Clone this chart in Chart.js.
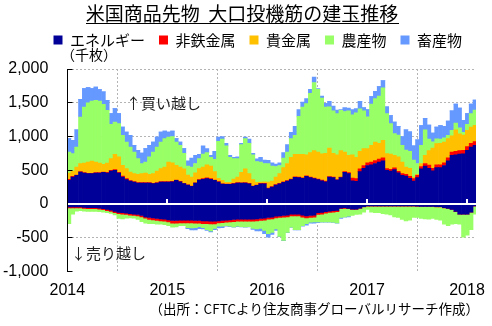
<!DOCTYPE html>
<html><head><meta charset="utf-8">
<script src="https://cdn.jsdelivr.net/npm/chart.js@4.4.1/dist/chart.umd.min.js"></script>
<style>html,body{margin:0;padding:0;background:#fff;}#wrap{width:492px;height:326px;}</style>
</head><body><div id="wrap"><canvas id="c" width="492" height="326"></canvas></div>
<script>
// ---- data (thousand contracts, bi-weekly from 2014-01-07) ----
const startDate = '2014-01-07';
const stepDays = 14;
const categories = ['エネルギー', '非鉄金属', '貴金属', '農産物', '畜産物'];
const yearTicks = [2014, 2015, 2016, 2017, 2018];
const yTickValues = [-1000, -500, 0, 500, 1000, 1500, 2000];

const energyLong = [351,400,425,474,459,450,450,459,459,469,459,489,499,459,400,360,341,326,311,311,311,311,301,311,326,326,
  326,330,351,330,301,280,260,310,355,365,375,365,350,326,295,291,291,300,311,310,311,300,262,277,300,300,
  227,250,280,300,320,340,360,395,390,380,410,390,375,360,345,330,400,390,355,390,470,450,345,335,480,530,
  570,580,600,622,640,500,489,510,460,425,415,380,341,390,520,560,530,490,540,540,570,640,720,730,740,745,795,845,870];
const metalsLong = [15,10,5,5,5,5,5,5,5,5,10,10,10,10,15,15,5,5,5,5,5,5,5,5,5,5,
  5,5,5,5,5,5,5,5,5,12,12,12,5,5,5,5,5,5,5,5,5,5,5,5,5,5,
  8,8,8,8,8,8,8,8,8,8,8,8,8,8,8,8,8,8,8,10,10,15,40,40,40,40,
  40,40,45,45,45,25,25,25,25,25,25,30,35,35,35,40,45,40,40,40,40,45,50,50,50,50,55,55,55];
const preciousLong = [93,79,118,119,144,167,182,158,144,114,139,173,227,228,158,149,128,119,124,134,143,124,144,173,193,217,
  291,275,217,213,214,145,135,145,164,171,193,183,125,49,51,24,24,65,84,155,204,145,93,38,20,25,
  91,82,112,142,212,252,322,333,338,348,312,362,407,402,392,412,422,352,367,390,290,255,345,315,260,250,
  210,250,274,233,258,221,226,186,212,172,108,120,24,15,45,120,215,300,314,320,309,283,240,320,250,225,242,241,241];
const agriLong = [311,257,297,691,829,875,889,914,918,889,780,509,479,493,445,395,371,320,232,148,163,257,320,356,395,420,
  371,390,346,322,230,130,148,140,148,192,180,130,180,550,609,540,370,302,272,410,448,450,370,310,297,270,
  272,220,155,120,140,170,278,282,564,701,757,880,1010,930,825,687,610,630,610,598,600,660,590,660,630,560,
  470,610,641,700,777,594,450,321,323,248,252,250,250,160,270,380,170,90,70,60,60,50,80,100,90,40,88,199,224];
const livestockLong = [198,197,255,261,272,227,183,198,168,183,148,158,198,149,123,148,173,99,123,158,198,172,149,148,148,114,
  74,80,49,49,70,80,132,120,64,120,60,30,120,60,40,40,30,18,28,20,22,60,20,40,68,50,
  49,50,35,40,80,110,92,132,100,73,73,60,80,10,30,53,80,70,50,12,60,40,75,60,110,50,
  110,110,110,140,110,100,120,173,130,130,300,290,210,350,290,170,210,130,176,200,171,212,290,280,290,180,160,140,150];

const energyShort = [-43,-43,-43,-43,-50,-53,-53,-53,-60,-70,-80,-90,-110,-125,-130,-135,-145,-150,-155,-170,-190,-200,-205,-215,-220,-225,
  -235,-245,-245,-240,-240,-240,-240,-245,-245,-250,-250,-255,-255,-250,-245,-240,-235,-230,-225,-225,-225,-225,-225,-220,-215,-210,
  -200,-195,-180,-175,-170,-165,-150,-150,-150,-165,-175,-170,-165,-130,-125,-115,-105,-100,-95,-60,-55,-65,-75,-75,-60,-40,
  -30,-30,-30,-30,-30,-30,-30,-30,-30,-30,-30,-30,-30,-32,-35,-35,-35,-35,-40,-40,-55,-65,-80,-110,-150,-150,-150,-120,-30];
const metalsShort = [-15,-15,-15,-15,-15,-15,-15,-15,-15,-15,-20,-20,-20,-20,-20,-20,-20,-20,-20,-20,-20,-30,-30,-30,-30,-30,
  -30,-40,-40,-40,-40,-40,-40,-40,-40,-40,-40,-40,-40,-30,-30,-30,-30,-30,-30,-30,-30,-30,-30,-30,-30,-30,
  -25,-25,-25,-25,-25,-25,-25,-25,-25,-30,-30,-30,-30,-25,-25,-20,-20,-20,-20,-10,-10,-5,-5,-5,-5,-2,
  -2,-2,-2,-2,-2,-2,-2,-2,-2,-2,-2,-2,-2,-2,-2,-2,-2,-2,-2,-2,-2,-2,-2,-2,-2,-2,-2,-2,-2];
const agriShort = [-232,-92,-47,-42,-40,-42,-42,-42,-37,-35,-30,-30,-30,-70,-70,-55,-40,-40,-55,-70,-75,-60,-55,-55,-50,-50,
  -55,-60,-55,-40,-40,-70,-75,-65,-50,-60,-90,-105,-65,-50,-55,-50,-65,-80,-75,-80,-85,-80,-105,-120,-115,-150,
  -215,-200,-165,-280,-345,-230,-170,-205,-205,-125,-85,-70,-70,-110,-115,-130,-140,-150,-165,-130,-125,-110,-90,-75,-85,-78,
  -48,-88,-98,-98,-113,-118,-128,-158,-168,-198,-218,-208,-168,-166,-178,-183,-188,-178,-188,-198,-243,-253,-218,-178,-148,-338,-308,-258,-118];
const livestockShort = [0,0,0,0,0,0,0,0,0,0,0,0,0,0,0,0,0,0,0,0,0,0,0,0,0,0,
  0,0,0,0,0,-15,-30,-35,-30,-20,-10,-15,-20,-25,-20,-10,-5,-5,-5,-5,-5,-5,-15,-30,-40,-50,
  -50,-30,-20,-5,-5,-3,-3,-3,-3,-10,-25,-15,-20,-10,-3,-3,-3,-3,-3,-15,-5,-10,0,0,0,0,
  0,0,0,0,0,0,0,0,0,0,0,0,0,0,0,0,0,0,0,0,0,0,0,0,0,0,0,0,0];

// ---- styles ----
const seriesColors = ['#000099', '#FF0000', '#FFC000', '#99FF66', '#6699FF'];
const JP = '"Noto Sans CJK JP", "Noto Sans CJK SC", sans-serif';
const NUM = '"Liberation Sans", Arial, sans-serif';

function decYear(ms) {
  const d = new Date(ms); const y = d.getUTCFullYear();
  const s = Date.UTC(y, 0, 1), e = Date.UTC(y + 1, 0, 1);
  return y + (ms - s) / (e - s);
}
const startMs = Date.parse(startDate + 'T00:00:00Z');
const xs = energyLong.map((_, i) => decYear(startMs + i * stepDays * 86400000));
const pts = arr => arr.map((v, i) => ({x: xs[i], y: v}));

const longSeries = [energyLong, metalsLong, preciousLong, agriLong, livestockLong];
const shortSeries = [[energyShort, 0], [metalsShort, 1], [agriShort, 3], [livestockShort, 4]];
const datasets = [];
longSeries.forEach((arr, i) => datasets.push({label: categories[i], data: pts(arr), backgroundColor: seriesColors[i]}));
shortSeries.forEach(([arr, ci]) => datasets.push({label: categories[ci] + '(売り)', data: pts(arr), backgroundColor: seriesColors[ci]}));

const overlay = {
  id: 'overlay',
  beforeLayout(chart) {
    const lg = chart.legend;
    if (lg && !lg.__patched) {
      const orig = lg.fit.bind(lg);
      lg.fit = function () { orig(); this.height += 11.5; };
      lg.__patched = true;
    }
  },
  afterDatasetsDraw(chart) {
    const {ctx, chartArea: a, scales: {x, y}} = chart;
    ctx.save();
    const y0 = y.getPixelForValue(0);
    ctx.fillStyle = '#fff';
    ctx.fillRect(a.left, Math.round(y0) - 1, a.right - a.left, 2);
    yearTicks.slice(1).forEach(v => {
      const px = Math.round(x.getPixelForValue(v));
      ctx.fillRect(px - 1, Math.round(y0) - 5, 2, 5);
    });
    const lx = Math.round(a.left - 0.5) + 0.5;
    ctx.strokeStyle = '#000'; ctx.lineWidth = 1;
    ctx.beginPath();
    ctx.moveTo(lx, a.top); ctx.lineTo(lx, a.bottom);
    yTickValues.forEach(v => {
      if (v === 0) return;
      const py = Math.round(y.getPixelForValue(v) - 0.5) + 0.5;
      ctx.moveTo(lx, py); ctx.lineTo(lx + 5, py);
    });
    ctx.stroke();
    ctx.restore();
  },
  afterDraw(chart) {
    const {ctx} = chart;
    ctx.save();
    ctx.fillStyle = '#000';
    const title = '米国商品先物  大口投機筋の建玉推移';
    ctx.font = '19px ' + JP;
    ctx.textAlign = 'center'; ctx.textBaseline = 'middle';
    const tx = 242, ty = 14;
    ctx.fillText(title, tx, ty);
    const w = ctx.measureText(title).width;
    ctx.fillRect(Math.round(tx - w / 2), 23, Math.round(w), 1);
    ctx.textAlign = 'left'; ctx.textBaseline = 'middle';
    ctx.font = '14px ' + JP;
    ctx.fillText('（千枚）', 61, 55);
    ctx.font = '15px ' + JP;
    ctx.fillStyle = '#222';
    ctx.fillText('↑買い越し', 126, 103);
    ctx.fillText('↓売り越し', 71, 253);
    ctx.fillStyle = '#000';
    ctx.textAlign = 'right';
    ctx.font = '13.5px ' + JP;
    ctx.fillText('（出所：CFTCより住友商事グローバルリサーチ作成）', 479, 309);
    ctx.restore();
  }
};

new Chart(document.getElementById('c'), {
  type: 'bar',
  data: {datasets},
  options: {
    responsive: false,
    animation: false,
    devicePixelRatio: 1,
    layout: {padding: {left: 3, right: 16, top: 18.5, bottom: 27}},
    datasets: {bar: {grouped: false, categoryPercentage: 1, barPercentage: 1, borderWidth: 0, clip: 0}},
    plugins: {
      title: {display: false},
      tooltip: {enabled: false},
      legend: {
        position: 'top', align: 'end',
        labels: {
          boxWidth: 9, boxHeight: 9, padding: 14, color: '#000',
          font: {family: JP, size: 15},
          filter: item => item.datasetIndex < categories.length
        }
      }
    },
    scales: {
      x: {
        type: 'linear', offset: false, min: 2014, max: 2018.09,
        afterBuildTicks: s => { s.ticks = yearTicks.map(v => ({value: v})); },
        afterFit: s => { s.height = 27.5; s.paddingLeft = 0; s.paddingRight = 0; },
        ticks: {callback: v => String(v), padding: 9, color: '#000', font: {family: NUM, size: 16}, maxRotation: 0, autoSkip: false},
        grid: {color: c => (c.tick && c.tick.value === yearTicks[0]) ? 'rgba(0,0,0,0)' : '#b4b4b4', drawTicks: false, lineWidth: 1},
        border: {display: false, dash: [2, 2]}
      },
      y: {
        stacked: true, min: -1000, max: 2000,
        afterBuildTicks: s => { s.ticks = yTickValues.map(v => ({value: v})); },
        afterFit: s => { s.width = 64.3; },
        ticks: {padding: 19, color: '#000', font: {family: NUM, size: 16}, callback: v => v.toLocaleString('en-US')},
        grid: {color: c => (c.tick && (c.tick.value === 0 || c.tick.value === -1000)) ? 'rgba(0,0,0,0)' : '#b4b4b4', drawTicks: false, lineWidth: 1},
        border: {display: true, color: '#000', width: 1, dash: [2, 2]}
      }
    }
  },
  plugins: [overlay]
});
</script></body></html>
